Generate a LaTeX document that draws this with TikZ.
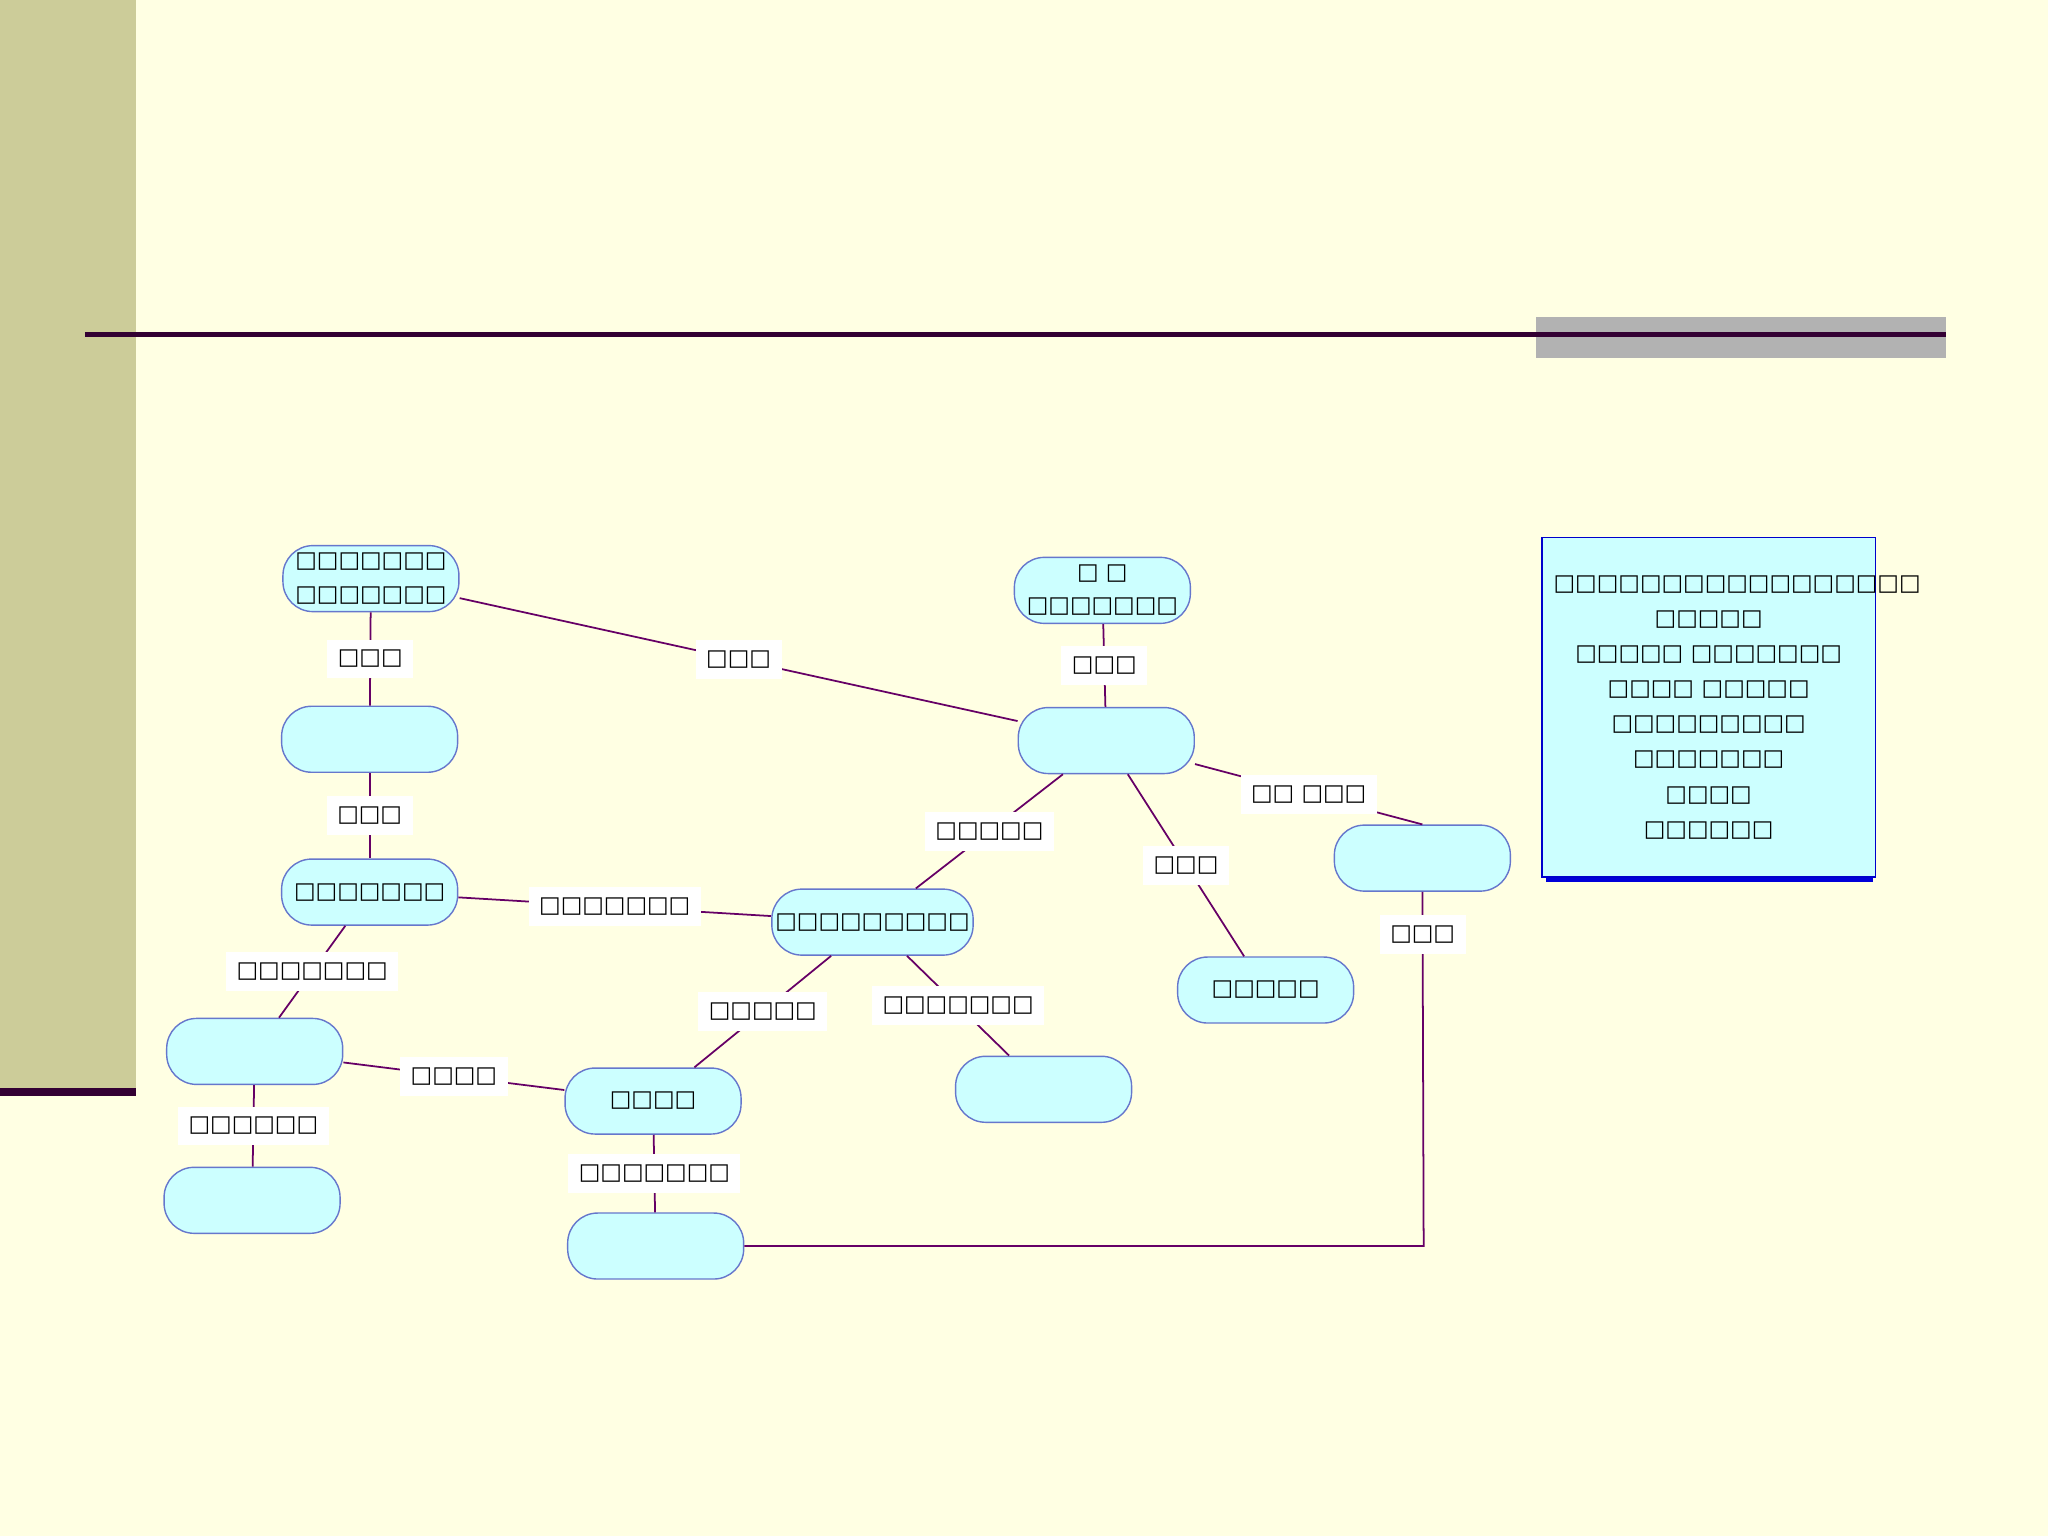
\documentclass[tikz,border=0pt]{standalone}
\usepackage{fontspec}
\setmainfont{DejaVu Sans}
\definecolor{cream}{HTML}{FFFFE3}
\definecolor{olive}{HTML}{CCCC99}
\definecolor{plum}{HTML}{330033}
\definecolor{edge}{HTML}{660066}
\definecolor{cyanfill}{HTML}{CCFFFF}
\definecolor{border}{HTML}{6677CC}
\tikzset{
  concept/.style={draw=border,fill=cyanfill,rectangle,rounded corners=0.3cm,minimum width=1.76cm,minimum height=0.66cm,
    font=\fontsize{6.5}{9.5}\selectfont,align=center,inner sep=1pt},
  link/.style={edge,line width=0.5pt},
  tag/.style={fill=white,text=black,font=\fontsize{6.5}{8}\selectfont,inner sep=3pt}
}
\begin{document}
\begin{tikzpicture}[x=0.013061cm,y=-0.013061cm]
% background
\fill[cream] (0,0) rectangle (1568,1176);
\useasboundingbox (0,0) rectangle (1568,1176);
\fill[olive] (0,0) rectangle (104,833);
\fill[plum] (0,833) rectangle (104,839);
\fill[gray!60] (1176,243) rectangle (1490,274);
\draw[plum,line width=1.6pt] (65,256) -- (1490,256);

% concepts
\node[concept] (cause) at (284,443) {□□□□□□□\\□□□□□□□};
\node[concept] (left1) at (283,566) {};
\node[concept] (left2) at (283,683) {□□□□□□□};
\node[concept] (low1) at (195,805) {};
\node[concept] (low2) at (193,919) {};
\node[concept] (mid) at (668,706) {□□□□□□□□□};
\node[concept] (sub) at (500,843) {□□□□};
\node[concept] (base) at (502,954) {};
\node[concept] (side) at (799,834) {};
\node[concept] (top) at (844,452) {□ □\\□□□□□□□};
\node[concept] (hub) at (847,567) {};
\node[concept] (right1) at (969,758) {□□□□□};
\node[concept] (right2) at (1089,657) {};

% links
\draw[link] (cause) -- node[tag] {□□□} (hub);
\draw[link] (cause) -- node[tag] {□□□} (left1);
\draw[link] (left1) -- node[tag] {□□□} (left2);
\draw[link] (left2) -- node[tag] {□□□□□□□} (mid);
\draw[link] (left2) -- node[tag] {□□□□□□□} (low1);
\draw[link] (low1) -- node[tag] {□□□□} (sub);
\draw[link] (low1) -- node[tag] {□□□□□□} (low2);
\draw[link] (mid) -- node[tag] {□□□□□} (sub);
\draw[link] (sub) -- node[tag] {□□□□□□□} (base);
\draw[link] (mid) -- node[tag] {□□□□□□□} (side);
\draw[link] (hub) -- node[tag] {□□□□□} (mid);
\draw[link] (top) -- node[tag] {□□□} (hub);
\draw[link] (hub) -- node[tag] {□□□} (right1);
\draw[link] (hub) -- node[tag] {□□ □□□} (right2.north);
\coordinate (turn) at (1090,954);
\draw[link] (right2) -- node[tag,pos=0.12] {□□□} (turn) -- (base);

% info box
\fill[blue!85!black] (1184,415) rectangle (1434,675);
\node[draw=blue!80!black,fill=cyanfill,minimum width=3.265cm,minimum height=3.396cm,text width=3.1cm,
  align=center,font=\fontsize{6.5}{10}\selectfont,anchor=north west] (info) at (1180,411)
  {□□□□□□□□□□□□□□□□□\\□□□□□\\□□□□□ □□□□□□□\\□□□□ □□□□□\\□□□□□□□□□\\□□□□□□□\\□□□□\\□□□□□□};
\end{tikzpicture}
\end{document}
